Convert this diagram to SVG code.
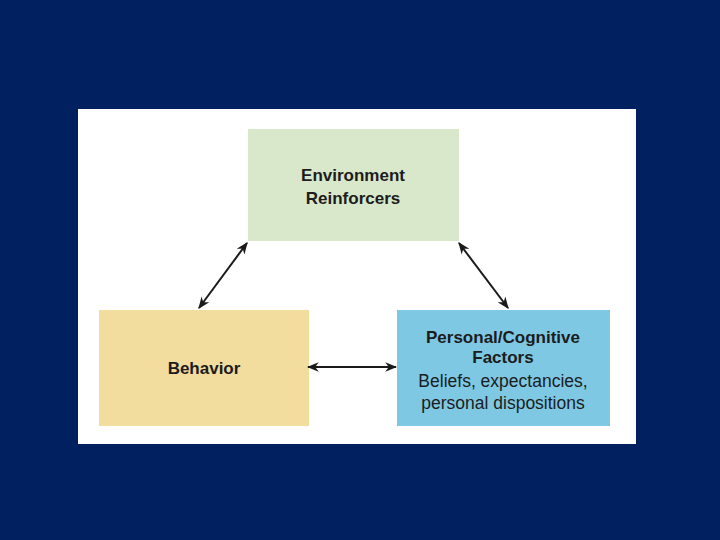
<svg xmlns="http://www.w3.org/2000/svg" width="720" height="540" viewBox="0 0 720 540">
  <defs>
    <style>
      .t { font-family: "Liberation Sans", Arial, sans-serif; fill: #1c1c1c; text-anchor: middle; }
      .b { font-weight: bold; font-size: 17px; }
      .r { font-size: 17.5px; }
      .conn { stroke: #1a1a1a; stroke-width: 2; fill: none; marker-start: url(#ah); marker-end: url(#ah); }
    </style>
    <marker id="ah" viewBox="0 0 10 10" refX="9" refY="5" markerWidth="6" markerHeight="6" orient="auto-start-reverse" markerUnits="strokeWidth">
      <path d="M0,1 L10,5 L0,9 L3,5 Z" fill="#1a1a1a"/>
    </marker>
  </defs>
  <rect x="0" y="0" width="720" height="540" fill="#00205f"/>
  <rect x="78" y="109" width="558" height="335" fill="#ffffff"/>
  <g id="environment">
    <rect x="248" y="129" width="211" height="112" fill="#d9e7cb"/>
    <text class="t b" x="353" y="181">Environment</text>
    <text class="t b" x="353" y="204">Reinforcers</text>
  </g>
  <g id="behavior">
    <rect x="99" y="310" width="210" height="116" fill="#f2dc9e"/>
    <text class="t b" x="204" y="374">Behavior</text>
  </g>
  <g id="personal">
    <rect x="397" y="310" width="213" height="116" fill="#7ec8e3"/>
    <text class="t b" x="503" y="343">Personal/Cognitive</text>
    <text class="t b" x="503" y="363">Factors</text>
    <text class="t r" x="503" y="387">Beliefs, expectancies,</text>
    <text class="t r" x="503" y="409">personal dispositions</text>
  </g>
  <g id="connectors">
    <line class="conn" x1="199" y1="308" x2="247" y2="243"/>
    <line class="conn" x1="459" y1="243" x2="508" y2="308"/>
    <line class="conn" x1="308" y1="367" x2="396" y2="367"/>
  </g>
</svg>
